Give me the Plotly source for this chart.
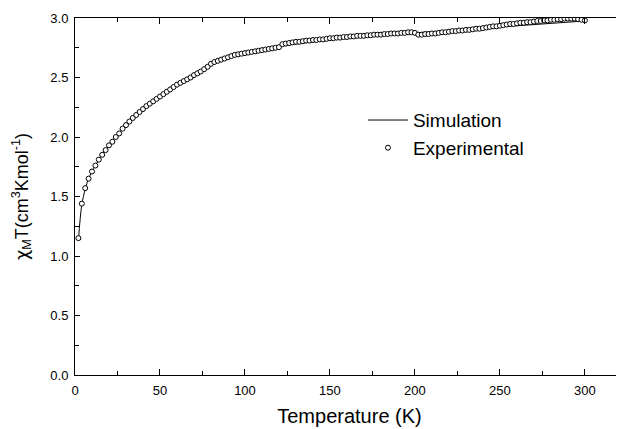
import plotly.graph_objects as go

temps = list(range(2, 301, 2))
chiT_exp = [
    1.15, 1.44, 1.57, 1.65, 1.71, 1.76, 1.81, 1.85, 1.89, 1.93,
    1.96, 2.00, 2.03, 2.07, 2.10, 2.13, 2.16, 2.185, 2.21, 2.235,
    2.26, 2.28, 2.30, 2.32, 2.34, 2.36, 2.38, 2.40, 2.42, 2.44,
    2.455, 2.47, 2.485, 2.50, 2.52, 2.535, 2.55, 2.57, 2.59, 2.615,
    2.63, 2.64, 2.65, 2.66, 2.67, 2.68, 2.69, 2.695, 2.70, 2.705,
    2.71, 2.715, 2.72, 2.725, 2.73, 2.735, 2.74, 2.745, 2.75, 2.755,
    2.78, 2.785, 2.79, 2.795, 2.80, 2.80, 2.805, 2.81, 2.81, 2.815,
    2.815, 2.82, 2.82, 2.825, 2.83, 2.83, 2.835, 2.835, 2.84, 2.84,
    2.845, 2.845, 2.85, 2.85, 2.85, 2.855, 2.855, 2.86, 2.86, 2.86,
    2.865, 2.865, 2.87, 2.87, 2.87, 2.875, 2.875, 2.88, 2.88, 2.875,
    2.86, 2.86, 2.865, 2.865, 2.87, 2.87, 2.875, 2.88, 2.88, 2.885,
    2.89, 2.89, 2.895, 2.895, 2.90, 2.90, 2.905, 2.91, 2.91, 2.915,
    2.92, 2.925, 2.93, 2.93, 2.935, 2.94, 2.945, 2.95, 2.95, 2.955,
    2.96, 2.96, 2.965, 2.965, 2.97, 2.975, 2.975, 2.98, 2.98, 2.985,
    2.985, 2.99, 2.99, 2.995, 2.995, 2.995, 2.995, 2.99, 2.985, 2.98,
]

sim_T = [2, 4, 6, 8, 10, 12, 15, 20, 25, 30, 40, 50, 60, 70, 80, 90, 100,
         120, 140, 160, 180, 200, 220, 240, 260, 280, 300]
chiT_sim = [1.13, 1.43, 1.56, 1.65, 1.71, 1.76, 1.83, 1.93, 2.02, 2.10, 2.235,
            2.34, 2.44, 2.52, 2.60, 2.66, 2.70, 2.76, 2.80, 2.83, 2.855, 2.875,
            2.895, 2.915, 2.935, 2.955, 2.975]

x_ticks = [0, 50, 100, 150, 200, 250, 300]
y_ticks = [0.0, 0.5, 1.0, 1.5, 2.0, 2.5, 3.0]

FONT = "Liberation Sans, Arial, sans-serif"

fig = go.Figure()
fig.add_trace(go.Scatter(
    x=sim_T, y=chiT_sim, mode="lines", name="Simulation",
    line=dict(color="black", width=1, shape="spline"),
))
fig.add_trace(go.Scatter(
    x=temps, y=chiT_exp, mode="markers", name="Experimental",
    marker=dict(symbol="circle", size=5, color="white",
                line=dict(color="black", width=1)),
))

# page body has an 8px default margin, so the figure is drawn at (8, 8)
fig.update_layout(
    width=616, height=421,
    margin=dict(l=67, r=0, t=10, b=54),
    paper_bgcolor="white", plot_bgcolor="white",
    font=dict(family=FONT, size=13, color="black"),
    showlegend=True,
    legend=dict(x=0.5245, y=0.767, xanchor="left", yanchor="top",
                font=dict(size=19), bgcolor="rgba(0,0,0,0)",
                tracegroupgap=0, itemwidth=40),
)
fig.update_xaxes(
    range=[0, 323], tickvals=x_ticks, ticktext=[str(v) for v in x_ticks],
    showgrid=False, zeroline=False, showline=True, linecolor="black",
    linewidth=1, mirror="ticks", ticks="inside", ticklen=6, tickcolor="black",
    minor=dict(dtick=25, tick0=0, ticks="inside", ticklen=4, tickcolor="black"),
    automargin=False, ticklabelstandoff=3,
    title=dict(text="Temperature (K)", font=dict(size=20), standoff=12),
)
fig.update_yaxes(
    range=[0, 3.0], tickvals=y_ticks, ticktext=[f"{v:.1f}" for v in y_ticks],
    showgrid=False, zeroline=False, showline=True, linecolor="black",
    linewidth=1, mirror=False, ticks="inside", ticklen=5, tickcolor="black",
    minor=dict(dtick=0.25, tick0=0, ticks="inside", ticklen=4, tickcolor="black"),
    automargin=False, ticklabelstandoff=3,
    title=dict(text="<span style=\"font-family:'DejaVu Sans'\">χ</span><sub>M</sub>T(cm<sup>3</sup>Kmol<sup>-1</sup>)",
               font=dict(size=18), standoff=17),
)

fig.write_html("out.html")
